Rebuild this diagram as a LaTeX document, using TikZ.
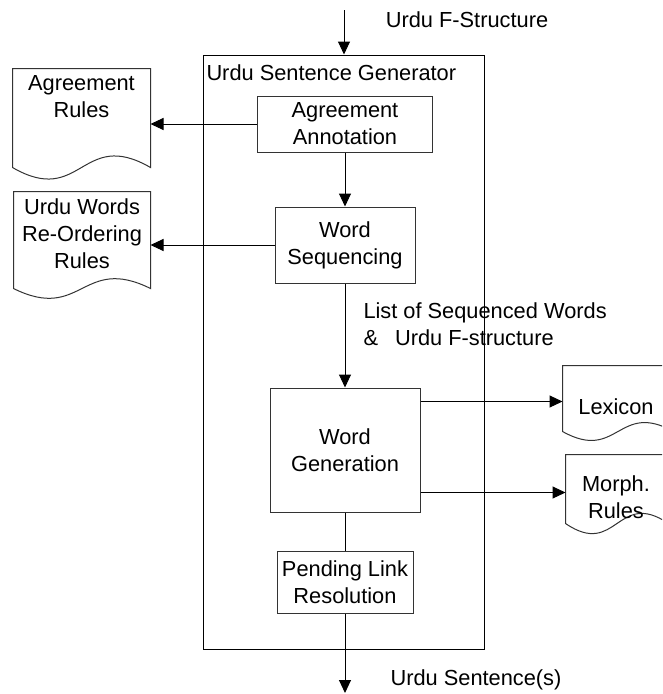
\documentclass[tikz,border=0pt]{standalone}
\usepackage{fontspec}
\setmainfont{Liberation Sans}
\usetikzlibrary{arrows.meta,calc}
\newcommand\docoutline[2]{%
  \draw[docline] (#1.south west) -- (#1.north west) -- (#1.north east) -- (#1.south east)
    .. controls ($(#1.south)+(0,-#2)$) and ($(#1.south)+(0,#2)$) .. (#1.south west) -- cycle;}
\begin{document}
\begin{tikzpicture}[x=1pt,y=-1pt,
  font=\fontsize{21.8}{27}\selectfont,
  line width=1pt,
  box/.style={draw=black!80, line width=1pt, align=center, inner sep=0pt},
  docrect/.style={inner sep=0pt},
  docline/.style={draw=black!80, line width=1pt},
  txt/.style={inner sep=0pt, align=center},
  conn/.style={draw=black, line width=1pt},
  arr/.style={conn, -{Triangle[length=13pt,width=12pt]}}]
\useasboundingbox (0,0) rectangle (662,694);
\clip (0,0) rectangle (662,694);

% outer box
\node[box, draw=black, minimum width=281pt, minimum height=594pt] (gen) at (343.5,352) {};
\node[anchor=west, inner sep=0pt] (genlab) at (206,73) {Urdu Sentence Generator};

% inner process boxes
\node[box, minimum width=175pt, minimum height=56pt] (aa) at (345,124) {Agreement\\Annotation};
\node[box, minimum width=140pt, minimum height=76pt] (ws) at (345,245) {Word\\Sequencing};
\node[box, minimum width=150pt, minimum height=124pt] (wg) at (345,450) {Word\\Generation};
\node[box, minimum width=136pt, minimum height=62pt] (pl) at (345,582) {Pending Link\\Resolution};

% documents
\node[docrect, minimum width=137pt, minimum height=98pt] (ar) at (81.5,118) {};
\docoutline{ar}{40}
\node[txt] (art) at (81.5,96.5) {Agreement\\Rules};

\node[docrect, minimum width=136pt, minimum height=96pt] (uw) at (82,240) {};
\docoutline{uw}{34}
\node[txt] (uwt) at (82,234) {Urdu Words\\Re-Ordering\\Rules};

\node[docrect, minimum width=110pt, minimum height=65pt] (lex) at (618,398.5) {};
\docoutline{lex}{31}
\node[txt] (lext) at (616,407) {Lexicon};

\node[docrect, minimum width=102pt, minimum height=68pt] (mr) at (617,489) {};
\docoutline{mr}{35}
\node[txt] (mrt) at (616,497.5) {Morph.\\Rules};

% free ends
\coordinate (in) at (344,10);
\coordinate (out) at (345,693);
\coordinate (wgA) at ($(wg.north east)+(0,14)$);
\coordinate (wgB) at ($(wg.south east)+(0,-20)$);

% connectors
\draw[arr] (in) -- (in |- gen.north);
\draw[arr] (aa.south) -- (ws.north);
\draw[arr] (ws.south) -- (wg.north);
\draw[conn] (wg.south) -- (pl.north);
\draw[arr] (pl.south) -- (out);
\draw[arr] (aa.west) -- (aa.west -| ar.east);
\draw[arr] (ws.west) -- (ws.west -| uw.east);
\draw[arr] (wgA) -- (wgA -| lex.west);
\draw[arr] (wgB) -- (wgB -| mr.west);

% labels
\node[txt] (inlab) at (467,20) {Urdu F-Structure};
\node[txt, anchor=west, align=left] (midlab) at (363,324) {List of Sequenced Words\\\&\hspace{17pt}Urdu F-structure};
\node[txt] (outlab) at (476,680) {Urdu Sentence(s)};
\end{tikzpicture}
\end{document}
